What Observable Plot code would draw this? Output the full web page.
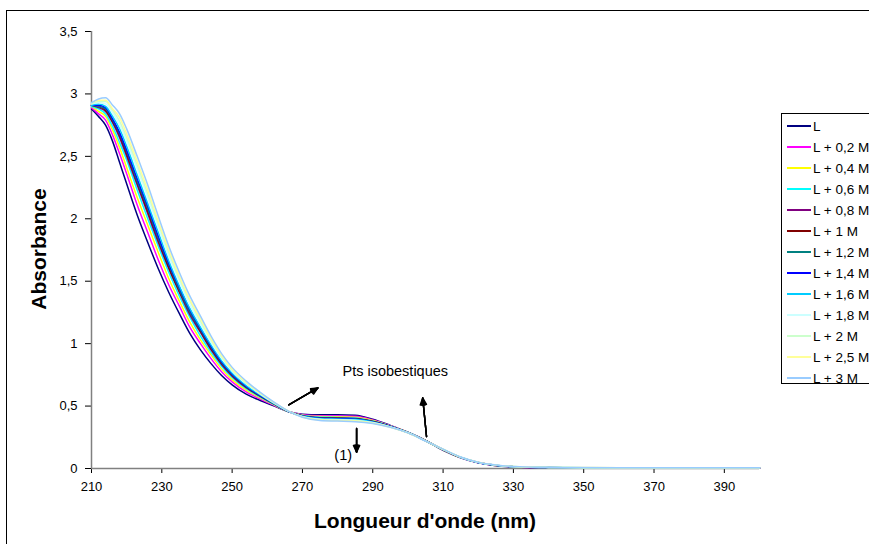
<!DOCTYPE html>
<html>
<head>
<meta charset="utf-8">
<script src="https://cdn.jsdelivr.net/npm/d3@7"></script>
<script src="https://cdn.jsdelivr.net/npm/@observablehq/plot@0.6"></script>
<style>
  html, body { margin: 0; padding: 0; background: white; }
  #wrap { position: relative; width: 869px; height: 544px; overflow: hidden; background: white;
          font-family: "Liberation Sans", Arial, sans-serif; }
  #frame { position: absolute; left: 6px; top: 10px; width: 900px; height: 600px; border: 1px solid #000; }
  #chart { position: absolute; left: 0; top: 0; }
  #legend { position: absolute; left: 781px; top: 113px; width: 120px; height: 271px;
            border: 1px solid #000; background: white; box-sizing: border-box; }
  .row { position: absolute; left: 0; height: 16px; display: flex; align-items: center;
         font-size: 13.5px; color: #000; white-space: nowrap; }
  .row svg { margin-left: 5px; margin-right: 2px; }
  .title { position: absolute; font-weight: bold; font-size: 21px; color: #000; white-space: nowrap; }
  #ytitle { left: 39px; top: 249px; transform: translate(-50%, -50%) rotate(-90deg); }
  #xtitle { left: 425px; top: 521px; transform: translate(-50%, -50%); }
</style>
</head>
<body>
<div id="wrap">
  <div id="frame"></div>
  <div id="chart"></div>
  <div id="legend"></div>
  <div class="title" id="ytitle">Absorbance</div>
  <div class="title" id="xtitle">Longueur d'onde (nm)</div>
</div>
<script>
// ---- data ----
const wavelengths = [210,212,214,216,218,220,223,226,229,232,235,238,241,244,247,250,254,258,262,266,270,275,280,285,290,295,300,305,310,315,320,325,330,340,350,360,370,380,390,400];

const seriesNames = ["L","L + 0,2 M","L + 0,4 M","L + 0,6 M","L + 0,8 M","L + 1 M","L + 1,2 M","L + 1,4 M","L + 1,6 M","L + 1,8 M","L + 2 M","L + 2,5 M","L + 3 M"];
const seriesColors = ["#000080","#FF00FF","#FFFF00","#00FFFF","#800080","#800000","#008080","#0000FF","#00CCFF","#CCFFFF","#CCFFCC","#FFFF99","#99CCFF"];

const absL   = [2.88,2.82,2.75,2.62,2.45,2.28,2.03,1.81,1.60,1.41,1.24,1.08,0.95,0.84,0.745,0.67,0.595,0.545,0.50,0.455,0.435,0.43,0.43,0.427,0.395,0.345,0.29,0.225,0.145,0.085,0.045,0.022,0.012,0.005,0.004,0.003,0.003,0.003,0.003,0.003];
const abs02  = [2.89,2.84,2.79,2.67,2.52,2.36,2.11,1.89,1.67,1.47,1.30,1.13,1.00,0.88,0.775,0.694,0.613,0.556,0.505,0.456,0.431,0.422,0.421,0.418,0.389,0.342,0.289,0.224,0.147,0.086,0.046,0.023,0.013,0.006,0.005,0.004,0.004,0.004,0.004,0.004];
const abs04  = [2.90,2.86,2.82,2.71,2.57,2.41,2.17,1.95,1.73,1.52,1.34,1.17,1.03,0.91,0.798,0.712,0.627,0.565,0.509,0.457,0.427,0.416,0.415,0.411,0.384,0.340,0.289,0.224,0.148,0.087,0.047,0.024,0.014,0.007,0.005,0.004,0.004,0.004,0.004,0.004];
const abs06  = [2.90,2.88,2.84,2.74,2.61,2.47,2.23,2.00,1.78,1.57,1.38,1.21,1.06,0.93,0.819,0.729,0.639,0.572,0.513,0.457,0.424,0.411,0.409,0.405,0.380,0.339,0.288,0.223,0.149,0.088,0.047,0.025,0.014,0.007,0.006,0.005,0.005,0.005,0.005,0.005];
const abs08  = [2.91,2.89,2.86,2.77,2.65,2.50,2.27,2.04,1.81,1.60,1.41,1.23,1.09,0.95,0.833,0.740,0.648,0.578,0.515,0.457,0.422,0.407,0.405,0.401,0.377,0.337,0.288,0.223,0.150,0.089,0.048,0.025,0.015,0.007,0.006,0.005,0.005,0.005,0.005,0.005];
const abs10  = [2.91,2.90,2.87,2.78,2.67,2.52,2.29,2.06,1.83,1.61,1.42,1.25,1.10,0.96,0.841,0.747,0.653,0.581,0.517,0.458,0.421,0.405,0.402,0.398,0.376,0.337,0.287,0.222,0.151,0.089,0.048,0.025,0.015,0.008,0.006,0.005,0.005,0.005,0.005,0.005];
const abs12  = [2.91,2.90,2.88,2.79,2.68,2.54,2.30,2.08,1.84,1.63,1.43,1.25,1.11,0.97,0.847,0.751,0.656,0.583,0.517,0.458,0.420,0.404,0.401,0.397,0.375,0.336,0.287,0.222,0.151,0.089,0.048,0.025,0.015,0.008,0.006,0.005,0.005,0.005,0.005,0.005];
const abs14  = [2.91,2.91,2.89,2.80,2.69,2.55,2.32,2.10,1.86,1.64,1.45,1.27,1.12,0.98,0.854,0.757,0.660,0.585,0.519,0.458,0.419,0.402,0.399,0.395,0.373,0.336,0.287,0.222,0.151,0.089,0.048,0.026,0.015,0.008,0.006,0.005,0.005,0.005,0.005,0.005];
const abs16  = [2.91,2.92,2.90,2.82,2.72,2.58,2.35,2.12,1.89,1.66,1.46,1.28,1.13,0.99,0.864,0.765,0.666,0.589,0.520,0.458,0.418,0.399,0.396,0.392,0.371,0.335,0.287,0.222,0.152,0.090,0.048,0.026,0.015,0.008,0.007,0.006,0.006,0.006,0.006,0.006];
const abs18  = [2.92,2.93,2.92,2.85,2.75,2.62,2.40,2.17,1.93,1.70,1.50,1.31,1.16,1.01,0.882,0.779,0.677,0.596,0.523,0.459,0.415,0.395,0.391,0.386,0.368,0.333,0.286,0.221,0.153,0.090,0.049,0.027,0.016,0.009,0.007,0.006,0.006,0.006,0.006,0.006];
const abs20  = [2.92,2.94,2.94,2.87,2.78,2.65,2.43,2.20,1.96,1.73,1.52,1.34,1.18,1.03,0.894,0.789,0.684,0.600,0.526,0.459,0.414,0.392,0.387,0.383,0.365,0.332,0.286,0.221,0.154,0.091,0.049,0.027,0.016,0.009,0.007,0.006,0.006,0.006,0.006,0.006];
const abs25  = [2.93,2.95,2.95,2.88,2.81,2.68,2.46,2.23,1.98,1.75,1.54,1.35,1.20,1.04,0.904,0.797,0.691,0.604,0.527,0.460,0.412,0.389,0.384,0.380,0.363,0.331,0.285,0.220,0.154,0.091,0.050,0.027,0.017,0.009,0.008,0.007,0.007,0.007,0.007,0.007];
const abs30  = [2.93,2.96,2.97,2.91,2.84,2.72,2.50,2.27,2.02,1.78,1.57,1.38,1.22,1.06,0.920,0.810,0.700,0.610,0.530,0.460,0.410,0.385,0.380,0.375,0.360,0.330,0.285,0.220,0.155,0.092,0.050,0.028,0.017,0.010,0.008,0.007,0.007,0.007,0.007,0.007];

const seriesValues = [absL,abs02,abs04,abs06,abs08,abs10,abs12,abs14,abs16,abs18,abs20,abs25,abs30];

const xTicks = [210,230,250,270,290,310,330,350,370,390];
const yTicks = [0,0.5,1,1.5,2,2.5,3,3.5];

// annotations (data units)
const arrowsData = [
  {x1: 266.1, y1: 0.51, x2: 274.4, y2: 0.645},
  {x1: 305.3, y1: 0.255, x2: 304.2, y2: 0.565},
  {x1: 285.4, y1: 0.32, x2: 285.4, y2: 0.13}
];
const notes = [
  {x: 296.4, y: 0.775, text: "Pts isobestiques"},
  {x: 281.6, y: 0.105, text: "(1)"}
];

// ---- build ----
const rows = seriesNames.flatMap((name, i) =>
  wavelengths.map((w, j) => ({nm: w, value: seriesValues[i][j], series: name})));

const fmt = d => String(d).replace(".", ",");

const arrowLayers = [50, 36, 22, 10].map(a =>
  Plot.arrow(arrowsData, {x1: "x1", y1: "y1", x2: "x2", y2: "y2", stroke: "black",
    strokeWidth: 1.4, headLength: 8, headAngle: a, bend: 0}));

const plot = Plot.plot({
  width: 869,
  height: 544,
  marginLeft: 91,
  marginRight: 110,
  marginTop: 31,
  marginBottom: 76,
  style: {fontFamily: "'Liberation Sans', Arial, sans-serif", fontSize: "13px", background: "transparent", color: "black", overflow: "visible"},
  x: {domain: [210, 400], ticks: xTicks, tickSize: 5, tickPadding: 8, label: null},
  y: {domain: [0, 3.5], ticks: yTicks, tickFormat: fmt, tickSize: 6, tickPadding: 8, label: null},
  color: {domain: seriesNames, range: seriesColors},
  marks: [
    Plot.ruleX([210], {stroke: "#808080", strokeWidth: 1.5}),
    Plot.ruleY([0], {stroke: "#808080", strokeWidth: 1.5}),
    Plot.line(rows, {x: "nm", y: "value", z: "series", stroke: "series", strokeWidth: 1.5, curve: "monotone-x"}),
    ...arrowLayers,
    Plot.text(notes, {x: "x", y: "y", text: "text", fontSize: 14.5, fill: "black"})
  ]
});
document.getElementById("chart").appendChild(plot);

// legend
const legend = document.getElementById("legend");
seriesNames.forEach((name, i) => {
  const row = document.createElement("div");
  row.className = "row";
  row.style.top = (4 + i * 21) + "px";
  row.innerHTML = `<svg width="24" height="4"><line x1="0" y1="2" x2="24" y2="2" stroke="${seriesColors[i]}" stroke-width="2"/></svg><span>${name}</span>`;
  legend.appendChild(row);
});
</script>
</body>
</html>
